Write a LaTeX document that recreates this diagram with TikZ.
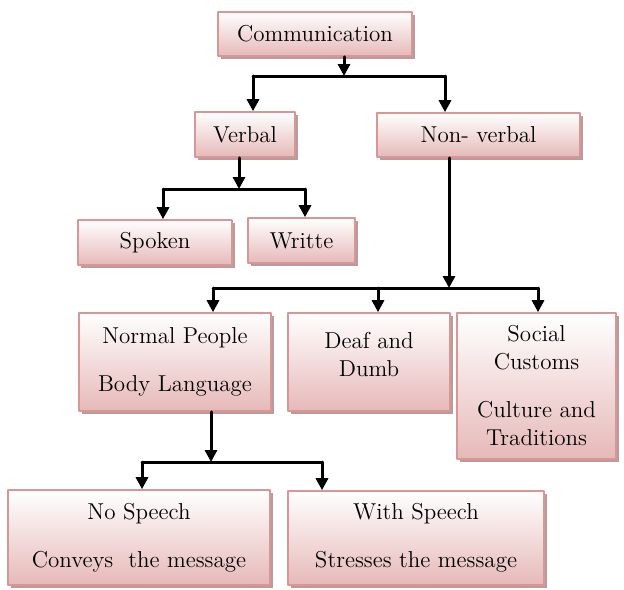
\documentclass[tikz,border=0pt]{standalone}
\usetikzlibrary{arrows.meta,positioning,shadows}
\definecolor{boxborder}{HTML}{D99694}
\definecolor{boxfill}{HTML}{E6B9B8}
\definecolor{boxshadow}{HTML}{A89494}

\begin{document}
\begin{tikzpicture}[x=0.5pt,y=-0.5pt,line cap=round,line join=round,
  box/.style={draw=boxborder,line width=0.8pt,top color=white,bottom color=boxfill,
    drop shadow={shadow xshift=1.5pt,shadow yshift=-1.5pt,fill=boxshadow,opacity=0.9},
    align=center,font=\fontsize{11.5}{14}\selectfont,inner sep=2pt},
  link/.style={line width=1.5pt},
  arr/.style={link,-{Triangle[width=6pt,length=6pt]}}]
  \useasboundingbox (0,0) rectangle (624,589);
  % boxes
  \node[box,minimum width=97pt,minimum height=22pt] (comm) at (315,34) {Communication};
  \node[box,minimum width=50pt,minimum height=22.5pt] (verbal) at (245,134.5) {Verbal};
  \node[box,minimum width=101.5pt,minimum height=22pt] (nonv) at (478.5,135) {Non- verbal};
  \node[box,minimum width=77pt,minimum height=22.5pt] (spoken) at (155,242.5) {Spoken};
  \node[box,minimum width=53.5pt,minimum height=22.5pt] (writte) at (301.5,240.5) {Writte};
  \node[box,minimum width=96pt,minimum height=49pt] (normal) at (175,362) {Normal People\\[10pt]Body Language};
  \node[box,minimum width=81pt,minimum height=49pt] (deaf) at (369,362) {Deaf and\\Dumb\\[-6pt]\mbox{}};
  \node[box,minimum width=79.5pt,minimum height=73pt] (social) at (536.5,386) {Social\\Customs\\[10pt]Culture and\\Traditions};
  \node[box,minimum width=131pt,minimum height=47.5pt] (nosp) at (139,537.5) {No Speech\\[10pt]Conveys\ \ the message};
  \node[box,minimum width=128pt,minimum height=47pt] (withsp) at (416,538) {With Speech\\[10pt]Stresses the message};
  % communication
  \coordinate (c1) at (344,76);
  \coordinate (c1l) at (253,76);
  \coordinate (c1r) at (445,76);
  \draw[arr] (comm.south -| c1) -- (c1);
  \draw[link] (c1l) -- (c1r);
  \draw[arr] (c1l) -- (c1l |- verbal.north);
  \draw[arr] (c1r) -- (c1r |- nonv.north);
  % verbal
  \coordinate (c2) at (239,189);
  \coordinate (c2l) at (163,189);
  \coordinate (c2r) at (305,189);
  \draw[arr] (verbal.south -| c2) -- (c2);
  \draw[link] (c2l) -- (c2r);
  \draw[arr] (c2l) -- (c2l |- spoken.north);
  \draw[arr] (c2r) -- (c2r |- writte.north);
  % non-verbal
  \coordinate (c3) at (449,288);
  \coordinate (c3l) at (213,288);
  \coordinate (c3m) at (378,288);
  \coordinate (c3r) at (538,288);
  \draw[arr] (nonv.south -| c3) -- (c3);
  \draw[link] (c3l) -- (c3r);
  \draw[arr] (c3l) -- (c3l |- normal.north);
  \draw[arr] (c3m) -- (c3m |- deaf.north);
  \draw[arr] (c3r) -- (c3r |- social.north);
  % normal people
  \coordinate (c4) at (211,462);
  \coordinate (c4l) at (142,462);
  \coordinate (c4r) at (322,462);
  \draw[arr] (normal.south -| c4) -- (c4);
  \draw[link] (c4l) -- (c4r);
  \draw[arr] (c4l) -- (c4l |- nosp.north);
  \draw[arr] (c4r) -- (c4r |- withsp.north);
\end{tikzpicture}
\end{document}
